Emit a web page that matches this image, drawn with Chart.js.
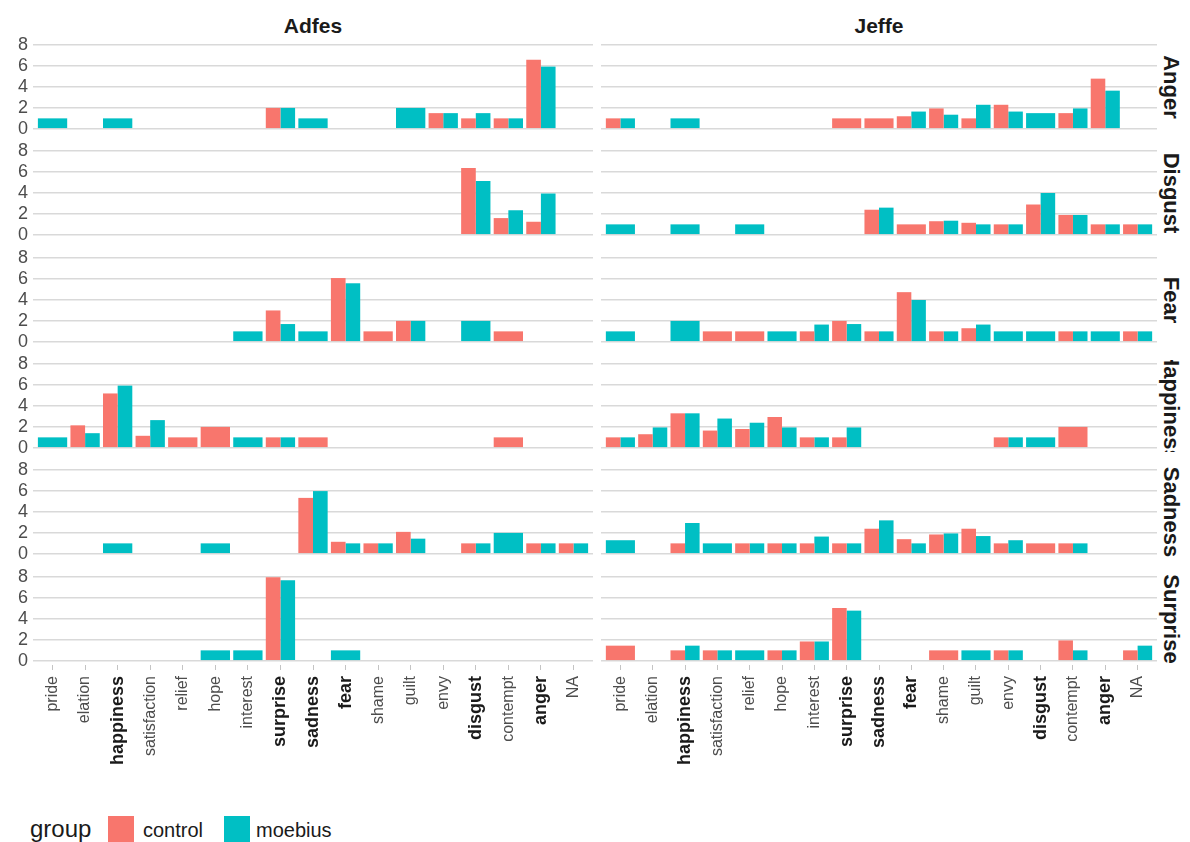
<!DOCTYPE html>
<html>
<head>
<meta charset="utf-8">
<script src="https://cdn.jsdelivr.net/npm/chart.js@4.4.1/dist/chart.umd.min.js"></script>
<style>
  body { margin: 0; background: #fff; font-family: 'Liberation Sans', Arial, sans-serif; }
  #wrap { position: relative; width: 1190px; height: 842px; overflow: hidden; }
  .panel { position: absolute; }
  .coltitle { position: absolute; top: 15px; font-size: 21px; font-weight: bold; color: #1a1a1a; transform: translateX(-50%); line-height: 1; }
  .strip { position: absolute; overflow: hidden; }
  .strip span { position: absolute; left: 50%; top: 50%; transform: translate(-50%, -50%) rotate(90deg);
                white-space: nowrap; font-size: 22px; font-weight: bold; color: #1a1a1a; line-height: 1; }
  .lg { position: absolute; line-height: 1; color: #1a1a1a; }
  .key { position: absolute; width: 26px; height: 26px; }
</style>
</head>
<body>
<div id="wrap">
  <div class="lg" style="left:30px;top:817px;font-size:24px;">group</div>
  <div class="key" style="left:108px;top:816px;background:#F8766D"></div>
  <div class="lg" style="left:143px;top:820px;font-size:20px;">control</div>
  <div class="key" style="left:224px;top:816px;background:#00BFC4"></div>
  <div class="lg" style="left:256px;top:820px;font-size:20px;">moebius</div>
</div>
<script>
const categories = ['pride', 'elation', 'happiness', 'satisfaction', 'relief', 'hope', 'interest',
  'surprise', 'sadness', 'fear', 'shame', 'guilt', 'envy', 'disgust', 'contempt', 'anger', 'NA'];
const boldCats = ['happiness', 'surprise', 'sadness', 'fear', 'disgust', 'anger'];
const facetCols = ['Adfes', 'Jeffe'];
const facetRows = ['Anger', 'Disgust', 'Fear', 'Happiness', 'Sadness', 'Surprise'];
const groups = ['control', 'moebius'];
const groupColors = ['#F8766D', '#00BFC4'];
const yTicks = [0, 2, 4, 6, 8];
const _ = null;

// values per facet, one value per category (null = no bar)
const adfesAngerControl     = [_, _, _, _, _, _, _, 2, _, _, _, _, 1.5, 1, 1, 6.6, _];
const adfesAngerMoebius     = [1, _, 1, _, _, _, _, 2, 1, _, _, 2, 1.5, 1.5, 1, 5.95, _];
const jeffeAngerControl     = [1, _, _, _, _, _, _, 1, 1, 1.2, 1.95, 1, 2.3, _, 1.5, 4.8, _];
const jeffeAngerMoebius     = [1, _, 1, _, _, _, _, _, _, 1.65, 1.35, 2.3, 1.65, 1.5, 1.95, 3.65, _];

const adfesDisgustControl   = [_, _, _, _, _, _, _, _, _, _, _, _, _, 6.4, 1.6, 1.25, _];
const adfesDisgustMoebius   = [_, _, _, _, _, _, _, _, _, _, _, _, _, 5.15, 2.35, 3.95, _];
const jeffeDisgustControl   = [_, _, _, _, _, _, _, _, 2.4, 1, 1.3, 1.15, 1, 2.9, 1.9, 1, 1];
const jeffeDisgustMoebius   = [1, _, 1, _, 1, _, _, _, 2.6, _, 1.35, 1, 1, 4, 1.9, 1, 1];

const adfesFearControl      = [_, _, _, _, _, _, _, 3, _, 6.1, 1, 2, _, _, 1, _, _];
const adfesFearMoebius      = [_, _, _, _, _, _, 1, 1.7, 1, 5.6, _, 2, _, 2, _, _, _];
const jeffeFearControl      = [_, _, _, 1, 1, _, 1, 2, 1, 4.75, 1, 1.3, _, _, 1, _, 1];
const jeffeFearMoebius      = [1, _, 2, _, _, 1, 1.65, 1.7, 1, 4, 1, 1.65, 1, 1, 1, 1, 1];

const adfesHappinessControl = [_, 2.15, 5.2, 1.15, 1, 2, _, 1, 1, _, _, _, _, _, 1, _, _];
const adfesHappinessMoebius = [1, 1.4, 5.95, 2.65, _, _, 1, 1, _, _, _, _, _, _, _, _, _];
const jeffeHappinessControl = [1, 1.3, 3.3, 1.65, 1.8, 2.95, 1, 1, _, _, _, _, 1, _, 2, _, _];
const jeffeHappinessMoebius = [1, 1.95, 3.3, 2.8, 2.4, 1.95, 1, 1.95, _, _, _, _, 1, 1, _, _, _];

const adfesSadnessControl   = [_, _, _, _, _, _, _, _, 5.35, 1.15, 1, 2.1, _, 1, _, 1, 1];
const adfesSadnessMoebius   = [_, _, 1, _, _, 1, _, _, 6, 1, 1, 1.45, _, 1, 2, 1, 1];
const jeffeSadnessControl   = [_, _, 1, _, 1, 1, 1, 1, 2.4, 1.4, 1.85, 2.4, 1, 1, 1, _, _];
const jeffeSadnessMoebius   = [1.3, _, 2.95, 1, 1, 1, 1.65, 1, 3.2, 1, 1.95, 1.7, 1.3, _, 1, _, _];

const adfesSurpriseControl  = [_, _, _, _, _, _, _, 8, _, _, _, _, _, _, _, _, _];
const adfesSurpriseMoebius  = [_, _, _, _, _, 1, 1, 7.7, _, 1, _, _, _, _, _, _, _];
const jeffeSurpriseControl  = [1.45, _, 1, 1, _, 1, 1.85, 5.05, _, _, 1, _, 1, _, 1.95, _, 1];
const jeffeSurpriseMoebius  = [_, _, 1.45, 1, 1, 1, 1.85, 4.8, _, _, _, 1, 1, _, 1, _, 1.45];

const panelData = {
  Adfes: {
    Anger: [adfesAngerControl, adfesAngerMoebius],
    Disgust: [adfesDisgustControl, adfesDisgustMoebius],
    Fear: [adfesFearControl, adfesFearMoebius],
    Happiness: [adfesHappinessControl, adfesHappinessMoebius],
    Sadness: [adfesSadnessControl, adfesSadnessMoebius],
    Surprise: [adfesSurpriseControl, adfesSurpriseMoebius]
  },
  Jeffe: {
    Anger: [jeffeAngerControl, jeffeAngerMoebius],
    Disgust: [jeffeDisgustControl, jeffeDisgustMoebius],
    Fear: [jeffeFearControl, jeffeFearMoebius],
    Happiness: [jeffeHappinessControl, jeffeHappinessMoebius],
    Sadness: [jeffeSadnessControl, jeffeSadnessMoebius],
    Surprise: [jeffeSurpriseControl, jeffeSurpriseMoebius]
  }
};

// layout of the facet grid
const family = "'Liberation Sans', Arial, sans-serif";
const plotLeft = [33, 601];
const plotRight = [593, 1157];
const rowTop0 = 40.8;
const rowPitch = 106.4;
const plotH = 92;
const pad = 10;
const wrap = document.getElementById('wrap');

facetCols.forEach((name, c) => {
  const t = document.createElement('div');
  t.className = 'coltitle';
  t.style.left = ((plotLeft[c] + plotRight[c]) / 2) + 'px';
  t.textContent = name;
  wrap.appendChild(t);
});

facetRows.forEach((name, r) => {
  const s = document.createElement('div');
  s.className = 'strip';
  s.style.cssText = `left:${plotRight[1]}px;top:${Math.round(rowTop0 + rowPitch * r)}px;width:28px;height:${plotH}px`;
  const sp = document.createElement('span');
  sp.textContent = name;
  s.appendChild(sp);
  wrap.appendChild(s);
});

function makePanel(col, row) {
  const isLeft = col === 0;
  const isBottom = row === facetRows.length - 1;
  const top = Math.round(rowTop0 + rowPitch * row);
  const left = isLeft ? 0 : plotLeft[1];
  const yW = isLeft ? plotLeft[0] : 0;
  const xH = isBottom ? 150 : 0;
  const padBottom = isBottom ? 0 : pad;
  const div = document.createElement('div');
  div.className = 'panel';
  div.style.cssText = `left:${left}px;top:${top - pad}px;width:${plotRight[col] - left}px;height:${plotH + pad + padBottom + xH}px`;
  const cv = document.createElement('canvas');
  div.appendChild(cv);
  wrap.appendChild(div);

  const pair = panelData[facetCols[col]][facetRows[row]];
  new Chart(cv, {
    type: 'bar',
    data: {
      labels: categories,
      datasets: groups.map((g, i) => ({
        label: g,
        data: pair[i],
        backgroundColor: groupColors[i],
        borderWidth: 0,
        categoryPercentage: 0.9,
        barPercentage: 1,
        skipNull: true
      }))
    },
    options: {
      responsive: true,
      maintainAspectRatio: false,
      animation: false,
      devicePixelRatio: 1,
      layout: { padding: { top: pad, bottom: padBottom, left: 0, right: 0 } },
      plugins: { legend: { display: false }, tooltip: { enabled: false } },
      scales: {
        x: {
          // ggplot keeps 0.6 of a category as margin on both sides
          afterBuildTicks: s => { s._startValue = -0.6; s._valueRange = categories.length + 0.2; },
          afterFit: s => { s.height = xH; s.paddingLeft = 0; s.paddingRight = 0; },
          border: { display: false },
          grid: { display: isBottom, drawOnChartArea: false, offset: false, tickLength: 5, tickColor: '#c4c4c4', lineWidth: 1 },
          ticks: {
            display: isBottom,
            autoSkip: false,
            minRotation: 90,
            maxRotation: 90,
            padding: 6,
            font: c => boldCats.includes(categories[c.index])
              ? { size: 18, weight: 'bold', family: family }
              : { size: 16, family: family },
            color: c => boldCats.includes(categories[c.index]) ? '#1a1a1a' : '#4d4d4d'
          }
        },
        y: {
          min: -0.4,
          max: 8.4,
          afterBuildTicks: s => { s.ticks = yTicks.map(v => ({ value: v })); },
          afterFit: s => { s.width = yW; s.paddingTop = 0; s.paddingBottom = 0; },
          border: { display: false },
          grid: { color: '#d9d9d9', lineWidth: 1.5, drawTicks: false },
          ticks: { display: isLeft, autoSkip: false, padding: 5, font: { size: 18, family: family }, color: '#4d4d4d' }
        }
      }
    }
  });
}

facetRows.forEach((r, ri) => facetCols.forEach((c, ci) => makePanel(ci, ri)));
</script>
</body>
</html>
